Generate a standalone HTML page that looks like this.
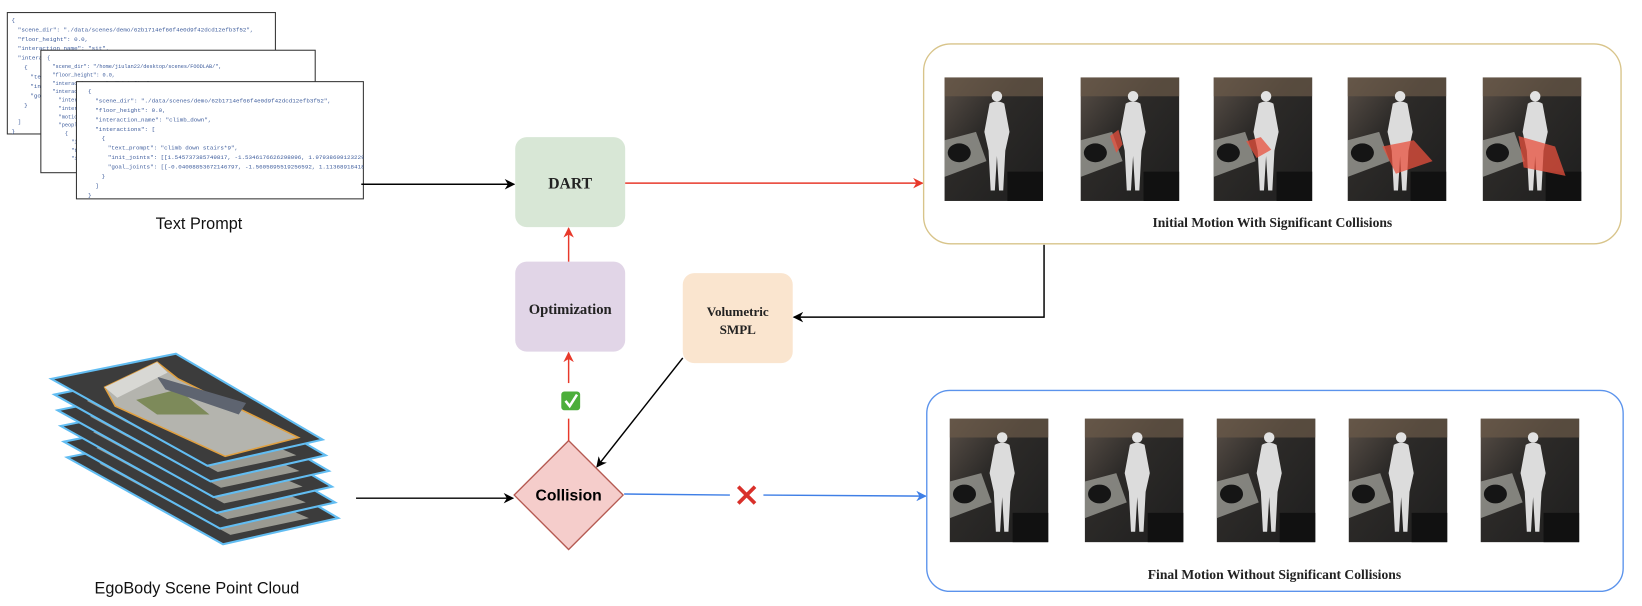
<!DOCTYPE html>
<html><head><meta charset="utf-8"><style>
html,body{margin:0;padding:0;background:#fff;width:1642px;height:606px;overflow:hidden}
svg{display:block}
.j{font-family:"Liberation Mono",monospace;font-size:5.6px;fill:#3d5c9c}
.s{font-family:"Liberation Serif",serif;font-weight:bold;fill:#222}
</style></head><body>
<svg width="1642" height="606" viewBox="0 0 1568 579" preserveAspectRatio="none" xmlns="http://www.w3.org/2000/svg">
<defs>
<marker id="ak" markerWidth="10" markerHeight="10" refX="9" refY="5" orient="auto" markerUnits="userSpaceOnUse"><path d="M0,0 L10,5 L0,10 L3,5 z" fill="#000"/></marker>
<marker id="ar" markerWidth="10" markerHeight="10" refX="9" refY="5" orient="auto" markerUnits="userSpaceOnUse"><path d="M0,0 L10,5 L0,10 L3,5 z" fill="#e8392b"/></marker>
<marker id="ab" markerWidth="10" markerHeight="10" refX="9" refY="5" orient="auto" markerUnits="userSpaceOnUse"><path d="M0,0 L10,5 L0,10 L3,5 z" fill="#3f7fe6"/></marker>
<clipPath id="c3"><rect x="73" y="78" width="274" height="112"/></clipPath>
<clipPath id="c2"><rect x="39" y="48" width="262" height="117"/></clipPath>
<linearGradient id="bg" x1="0" y1="0" x2="1" y2="1"><stop offset="0" stop-color="#5a5048"/><stop offset="0.4" stop-color="#2c2a28"/><stop offset="1" stop-color="#1e1e1e"/></linearGradient>
<g id="th">
<rect width="94" height="118" fill="url(#bg)"/>
<rect x="0" y="0" width="94" height="18" fill="#6b5a48" opacity="0.7"/>
<path d="M0,60 L30,52 L40,80 L0,95 z" fill="#9a9a94" opacity="0.8"/>
<ellipse cx="14" cy="72" rx="11" ry="9" fill="#151515"/>
<rect x="60" y="90" width="34" height="28" fill="#111"/>
<circle cx="50" cy="18" r="5" fill="#e2e2e2"/>
<path d="M43,25 Q50,21 57,25 L62,52 L58,70 L56,108 L52,108 L50,75 L48,108 L44,108 L42,70 L38,52 z" fill="#dcdcdc"/>
</g>
<g id="layer">
<path d="M49,362 L168,338 L308,420 L198,445 z" fill="#3c3c3c" stroke="#62bdf2" stroke-width="2"/>
<path d="M80,368 L120,352 L280,420 L205,436 z" fill="#9a9a92"/>
</g>
</defs>

<!-- JSON cards -->
<rect x="7" y="12" width="256" height="116" fill="#fff" stroke="#333" stroke-width="1"/>
<text class="j"><tspan x="11" y="21">{</tspan><tspan x="17" y="30">"scene_dir": "./data/scenes/demo/62b1714ef66f4e0d9f42dcd12efb3f52",</tspan><tspan x="17" y="39">"floor_height": 0.0,</tspan><tspan x="17" y="48">"interaction_name": "sit",</tspan><tspan x="17" y="57">"interac</tspan><tspan x="23" y="66">{</tspan><tspan x="29" y="75">"tex</tspan><tspan x="29" y="84">"ini</tspan><tspan x="29" y="93">"goa</tspan><tspan x="23" y="102">}</tspan><tspan x="17" y="118">]</tspan><tspan x="11" y="127">}</tspan></text>
<rect x="39" y="48" width="262" height="117" fill="#fff" stroke="#333" stroke-width="1"/>
<text class="j" style="font-size:5px" clip-path="url(#c2)"><tspan x="45" y="57">{</tspan><tspan x="50" y="65">"scene_dir": "/home/jiulan22/desktop/scenes/FOODLAB/",</tspan><tspan x="50" y="73">"floor_height": 0.0,</tspan><tspan x="50" y="81">"interaction_name": "high_five",</tspan><tspan x="50" y="89">"interact</tspan><tspan x="56" y="97">"intera</tspan><tspan x="56" y="105">"intera</tspan><tspan x="56" y="113">"motio</tspan><tspan x="56" y="121">"peopl</tspan><tspan x="62" y="129">{</tspan><tspan x="68" y="137">"id</tspan><tspan x="68" y="145">"te</tspan><tspan x="68" y="153">"in</tspan></text>
<rect x="73" y="78" width="274" height="112" fill="#fff" stroke="#333" stroke-width="1"/>
<text class="j" clip-path="url(#c3)"><tspan x="84" y="89">{</tspan><tspan x="91" y="98">"scene_dir": "./data/scenes/demo/62b1714ef66f4e0d9f42dcd12efb3f52",</tspan><tspan x="91" y="107">"floor_height": 0.0,</tspan><tspan x="91" y="116">"interaction_name": "climb_down",</tspan><tspan x="91" y="125">"interactions": [</tspan><tspan x="97" y="134">{</tspan><tspan x="103" y="143">"text_prompt": "climb down stairs*9",</tspan><tspan x="103" y="152">"init_joints": [[1.545737385749817, -1.5346176626298096, 1.979386091232299</tspan><tspan x="103" y="161">"goal_joints": [[-0.04008853672146797, -1.5605895519256592, 1.11368918418884</tspan><tspan x="97" y="170">}</tspan><tspan x="91" y="179">]</tspan><tspan x="84" y="188">}</tspan></text>
<text x="190" y="219" text-anchor="middle" font-family="Liberation Sans, sans-serif" font-size="15.5" fill="#111">Text Prompt</text>

<!-- point cloud stack -->
<use href="#layer" transform="translate(15,75)"/>
<use href="#layer" transform="translate(12,60)"/>
<use href="#layer" transform="translate(9,45)"/>
<use href="#layer" transform="translate(6,30)"/>
<use href="#layer" transform="translate(3,15)"/>
<path d="M49,362 L168,338 L308,420 L198,445 z" fill="#3c3c3c" stroke="#62bdf2" stroke-width="2"/>
<path d="M100,370 L150,346 L170,362 L285,418 L215,436 L110,388 z" fill="#b4b4ae" stroke="#e0a040" stroke-width="1.5"/>
<path d="M130,382 L170,372 L200,396 L150,396 z" fill="#7d8a5a"/>
<path d="M150,360 L235,385 L228,396 L158,372 z" fill="#5e6470"/>
<path d="M100,370 L150,346 L160,356 L112,380 z" fill="#d8d8d4"/>
<text x="188" y="567" text-anchor="middle" font-family="Liberation Sans, sans-serif" font-size="15.5" fill="#111">EgoBody Scene Point Cloud</text>

<!-- nodes -->
<rect x="492" y="131" width="105" height="86" rx="11" fill="#d8e7d6"/>
<text x="544.5" y="180" text-anchor="middle" class="s" font-size="15">DART</text>
<rect x="492" y="250" width="105" height="86" rx="11" fill="#e1d5e7"/>
<text x="544.5" y="300" text-anchor="middle" class="s" font-size="14">Optimization</text>
<rect x="652" y="261" width="105" height="86" rx="11" fill="#fae5cf"/>
<text x="704.5" y="302" text-anchor="middle" class="s" font-size="12.5">Volumetric</text>
<text x="704.5" y="319" text-anchor="middle" class="s" font-size="12.5">SMPL</text>
<path d="M543,421 L595,473 L543,525 L491,473 z" fill="#f5cdcb" stroke="#b55a52" stroke-width="1.3"/>
<text x="543" y="478" text-anchor="middle" font-family="Liberation Sans, sans-serif" font-weight="bold" font-size="15" fill="#000">Collision</text>

<!-- connectors -->
<line x1="345" y1="176" x2="491" y2="176" stroke="#000" stroke-width="1.4" marker-end="url(#ak)"/>
<line x1="597" y1="175" x2="881" y2="175" stroke="#e8392b" stroke-width="1.4" marker-end="url(#ar)"/>
<line x1="543" y1="250" x2="543" y2="218" stroke="#e8392b" stroke-width="1.4" marker-end="url(#ar)"/>
<line x1="543" y1="421" x2="543" y2="400" stroke="#e8392b" stroke-width="1.4"/>
<line x1="543" y1="366" x2="543" y2="337" stroke="#e8392b" stroke-width="1.4" marker-end="url(#ar)"/>
<rect x="536" y="374" width="18" height="18" rx="3" fill="#4cae3a"/>
<path d="M540,383 L544,388 L551,377" stroke="#fff" stroke-width="2.4" fill="none"/>
<polyline points="997,234 997,303 758,303" fill="none" stroke="#000" stroke-width="1.4" marker-end="url(#ak)"/>
<line x1="652" y1="342" x2="570" y2="446" stroke="#000" stroke-width="1.4" marker-end="url(#ak)"/>
<line x1="340" y1="476" x2="490" y2="476" stroke="#000" stroke-width="1.4" marker-end="url(#ak)"/>
<line x1="596" y1="472" x2="697" y2="473" stroke="#3f7fe6" stroke-width="1.4"/>
<line x1="729" y1="473" x2="884" y2="474" stroke="#3f7fe6" stroke-width="1.4" marker-end="url(#ab)"/>
<path d="M705,465 L721,481 M721,465 L705,481" stroke="#d9302a" stroke-width="3.5"/>

<!-- top panel -->
<rect x="882" y="42" width="666" height="191" rx="26" fill="#fff" stroke="#d8c48a" stroke-width="1.3"/>
<use href="#th" x="902" y="74"/>
<use href="#th" x="1032" y="74"/>
<use href="#th" x="1159" y="74"/>
<use href="#th" x="1287" y="74"/>
<use href="#th" x="1416" y="74"/>
<path d="M1060,130 l8,-6 l4,14 l-6,8 z M1190,135 l14,-4 l10,12 l-14,8 z M1320,140 l30,-6 l18,20 l-35,12 z M1450,130 l35,10 l10,28 l-40,-8 z" fill="#e8503e" opacity="0.75"/>
<text x="1215" y="217" text-anchor="middle" class="s" font-size="13">Initial Motion With Significant Collisions</text>

<!-- bottom panel -->
<rect x="885" y="373" width="665" height="192" rx="22" fill="#fff" stroke="#5b93ec" stroke-width="1.3"/>
<use href="#th" x="907" y="400"/>
<use href="#th" x="1036" y="400"/>
<use href="#th" x="1162" y="400"/>
<use href="#th" x="1288" y="400"/>
<use href="#th" x="1414" y="400"/>
<text x="1217" y="553" text-anchor="middle" class="s" font-size="13">Final Motion Without Significant Collisions</text>
</svg>
</body></html>
